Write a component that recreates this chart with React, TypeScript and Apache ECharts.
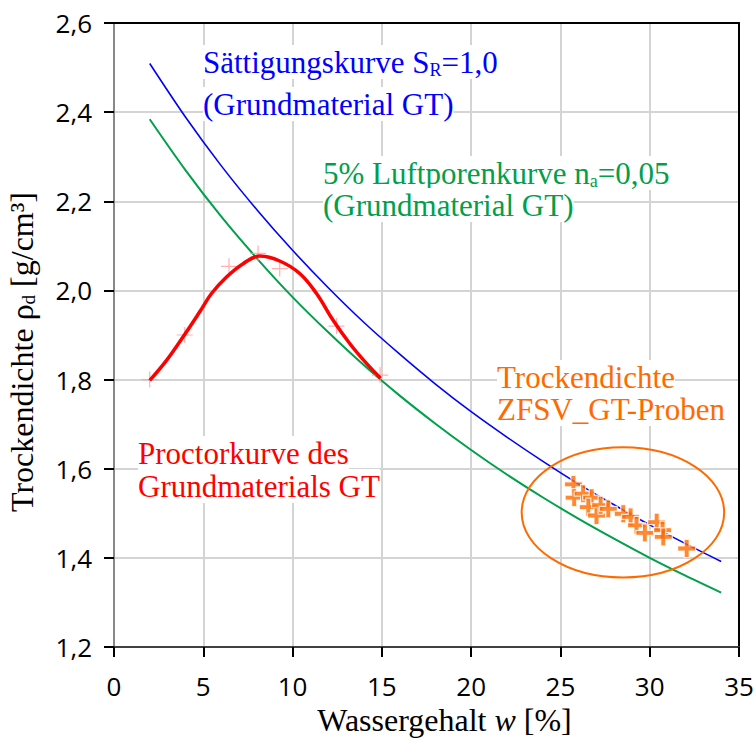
import React, { useEffect, useRef } from "react";
import * as echarts from "echarts";

// Sättigungskurve (S_R = 1,0) – Wassergehalt [%] / Trockendichte [g/cm³]
const satW = [2, 4, 6, 8, 10, 12, 14, 16, 18, 20, 22, 24, 26, 28, 30, 32, 34];
const satRho = [2.509, 2.389, 2.280, 2.181, 2.090, 2.006, 1.928, 1.857, 1.790, 1.728, 1.671, 1.617, 1.566, 1.519, 1.474, 1.432, 1.392];

// 5% Luftporenkurve (n_a = 0,05)
const airW = [2, 4, 6, 8, 10, 12, 14, 16, 18, 20, 22, 24, 26, 28, 30, 32, 34];
const airRho = [2.384, 2.270, 2.166, 2.072, 1.985, 1.906, 1.832, 1.764, 1.701, 1.642, 1.587, 1.536, 1.488, 1.443, 1.400, 1.360, 1.322];

// Proctorkurve (Verlauf)
const proctorW = [2.0, 2.94, 3.87, 4.8, 5.46, 6.3, 7.23, 8.16, 9.28, 10.4, 11.34, 12.27, 13.2, 14.1, 14.93];
const proctorRho = [1.798, 1.843, 1.896, 1.952, 1.993, 2.03, 2.06, 2.077, 2.066, 2.038, 1.993, 1.933, 1.881, 1.838, 1.803];

// Proctorversuch Messpunkte
const proctorPtW = [2.0, 3.96, 6.44, 8.07, 9.28, 12.46, 14.9];
const proctorPtRho = [1.80, 1.90, 2.054, 2.083, 2.049, 1.92, 1.81];

// ZFSV_GT-Proben
const sampleW = [25.73, 25.77, 26.27, 26.75, 26.56, 27.02, 27.25, 27.68, 28.52, 28.93, 29.26, 29.73, 30.39, 30.72, 30.76, 32.07];
const sampleRho = [1.565, 1.535, 1.544, 1.535, 1.514, 1.495, 1.518, 1.51, 1.499, 1.492, 1.473, 1.456, 1.48, 1.462, 1.447, 1.421];

// Markierungsellipse: Mittelpunkt und Halbachsen (Datenwerte)
const ellipseCenter = [28.5, 1.502];
const ellipseRadii = [5.67, 0.146];

const xTicks = { min: 0, max: 35, interval: 5 };
const yTicks = { min: 1.2, max: 2.6, interval: 0.2 };

const zip = (a: number[], b: number[]) => a.map((v, i) => [v, b[i]]);

const SERIF = "'Liberation Serif', 'Times New Roman', serif";
const SANS = "'Open Sans', 'Noto Sans', sans-serif";
const BLUE = "#0000ff";
const GREEN = "#00a04a";
const RED = "#ff0000";
const ORANGE = "#ff6a00";

const PLUS_BOLD = "path://M6.5,0H11.5V6.5H18V11.5H11.5V18H6.5V11.5H0V6.5H6.5Z";
const PLUS_THIN = "path://M7.4,0H8.6V7.4H16V8.6H8.6V16H7.4V8.6H0V7.4H7.4Z";

const annText = (x: number, y: number, text: string, color: string, rich?: any) => ({
  type: "text",
  x,
  y,
  z: 100,
  style: {
    text,
    fill: color,
    fontFamily: SERIF,
    fontSize: 31,
    lineHeight: 34,
    align: "left",
    verticalAlign: "middle",
    backgroundColor: "#ffffff",
    rich,
  },
});

export default function App() {
  const ref = useRef<HTMLDivElement>(null);
  useEffect(() => {
    if (!ref.current) return;
    const chart = echarts.init(ref.current, null, { renderer: "svg" });
    const subRich = (color: string) => ({
      sub: { fontSize: 18, lineHeight: 12, verticalAlign: "bottom", fill: color, color, fontFamily: SERIF },
    });
    const fmtComma = (v: number) => v.toFixed(1).replace(".", ",");
    chart.setOption({
      animation: false,
      backgroundColor: "#ffffff",
      grid: { left: 114, right: 17, top: 23, bottom: 91, containLabel: false, outerBoundsMode: "none" },
      xAxis: [
        {
          type: "value",
          min: xTicks.min,
          max: xTicks.max,
          interval: xTicks.interval,
          position: "bottom",
          name: "Wassergehalt {it|w} [%]",
          nameLocation: "middle",
          nameGap: 55,
          nameTextStyle: {
            fontFamily: SERIF,
            fontSize: 32,
            lineHeight: 32,
            color: "#000",
            padding: [0, 0, 0, 36],
            rich: { it: { fontFamily: SERIF, fontSize: 32, lineHeight: 32, fontStyle: "italic", color: "#000" } },
          },
          axisLine: { show: true, onZero: false, lineStyle: { color: "#404040", width: 2 } },
          axisTick: { show: true, inside: false, length: 10, lineStyle: { color: "#000", width: 2 } },
          axisLabel: { fontFamily: SANS, fontSize: 26, color: "#000", margin: 26 },
          splitLine: { show: true, lineStyle: { color: "#d4d4d4", width: 2 } },
        },
        {
          type: "value",
          min: xTicks.min,
          max: xTicks.max,
          interval: xTicks.interval,
          position: "top",
          axisLine: { show: true, onZero: false, lineStyle: { color: "#000", width: 2 } },
          axisTick: { show: false },
          axisLabel: { show: false },
          splitLine: { show: false },
        },
      ],
      yAxis: [
        {
          type: "value",
          min: yTicks.min,
          max: yTicks.max,
          interval: yTicks.interval,
          position: "left",
          name: "Trockendichte ρ{sub|d} [g/cm³]",
          nameLocation: "middle",
          nameGap: 76,
          nameTextStyle: {
            fontFamily: SERIF,
            fontSize: 32,
            lineHeight: 32,
            color: "#000",
            padding: [0, 34, 0, 0],
            rich: { sub: { fontFamily: SERIF, fontSize: 19, lineHeight: 12, verticalAlign: "bottom", color: "#000" } },
          },
          axisLine: { show: true, onZero: false, lineStyle: { color: "#888888", width: 2 } },
          axisTick: { show: true, inside: false, length: 10, lineStyle: { color: "#000", width: 2 } },
          axisLabel: { fontFamily: SANS, fontSize: 26, color: "#000", margin: 22, formatter: fmtComma },
          splitLine: { show: true, lineStyle: { color: "#d4d4d4", width: 2 } },
        },
        {
          type: "value",
          min: yTicks.min,
          max: yTicks.max,
          interval: yTicks.interval,
          position: "right",
          axisLine: { show: true, onZero: false, lineStyle: { color: "#000", width: 2 } },
          axisTick: { show: false },
          axisLabel: { show: false },
          splitLine: { show: false },
        },
      ],
      series: [
        {
          name: "Luftporenkurve",
          type: "line",
          data: zip(airW, airRho),
          smooth: 0.3,
          showSymbol: false,
          lineStyle: { color: GREEN, width: 2 },
          itemStyle: { color: GREEN },
          z: 2,
        },
        {
          name: "Sättigungskurve",
          type: "line",
          data: zip(satW, satRho),
          smooth: 0.3,
          showSymbol: false,
          lineStyle: { color: BLUE, width: 1.6 },
          itemStyle: { color: BLUE },
          z: 3,
        },
        {
          name: "Proctorpunkte",
          type: "scatter",
          data: zip(proctorPtW, proctorPtRho),
          symbol: PLUS_THIN,
          symbolSize: 16,
          itemStyle: { color: "#ff9c9c" },
          z: 3,
        },
        {
          name: "Proctorkurve",
          type: "line",
          data: zip(proctorW, proctorRho),
          smooth: 0.4,
          showSymbol: false,
          lineStyle: { color: RED, width: 3.5 },
          itemStyle: { color: RED },
          z: 4,
        },
        {
          name: "ZFSV_GT-Proben",
          type: "scatter",
          data: zip(sampleW, sampleRho),
          symbol: PLUS_BOLD,
          symbolSize: 18,
          itemStyle: { color: ORANGE, borderColor: "#ffffff", borderWidth: 1.2 },
          z: 5,
        },
        {
          name: "Ellipse",
          type: "custom",
          coordinateSystem: "cartesian2d",
          data: [[ellipseCenter[0], ellipseCenter[1], ellipseRadii[0], ellipseRadii[1]]],
          encode: { x: 0, y: 1 },
          clip: false,
          z: 6,
          renderItem: (params: any, api: any) => {
            const c = api.coord([api.value(0), api.value(1)]);
            const s = api.size([api.value(2), api.value(3)]);
            return {
              type: "ellipse",
              shape: { cx: c[0], cy: c[1], rx: s[0], ry: s[1] },
              style: { fill: "none", stroke: ORANGE, lineWidth: 2 },
            };
          },
        },
      ],
      graphic: [
        annText(203, 62, "Sättigungskurve S{sub|R}=1,0", BLUE, subRich(BLUE)),
        annText(203, 104, "(Grundmaterial GT)", BLUE),
        annText(323, 173, "5% Luftporenkurve n{sub|a}=0,05", GREEN, subRich(GREEN)),
        annText(323, 205, "(Grundmaterial GT)", GREEN),
        annText(138, 453, "Proctorkurve des", RED),
        annText(138, 486, "Grundmaterials GT", RED),
        annText(497, 377, "Trockendichte", ORANGE),
        annText(497, 409, "ZFSV_GT-Proben", ORANGE),
      ],
    });
    return () => chart.dispose();
  }, []);
  return (
    <div
      ref={ref}
      style={{ position: "fixed", left: 0, top: 0, width: 756, height: 738, background: "#fff" }}
    />
  );
}
